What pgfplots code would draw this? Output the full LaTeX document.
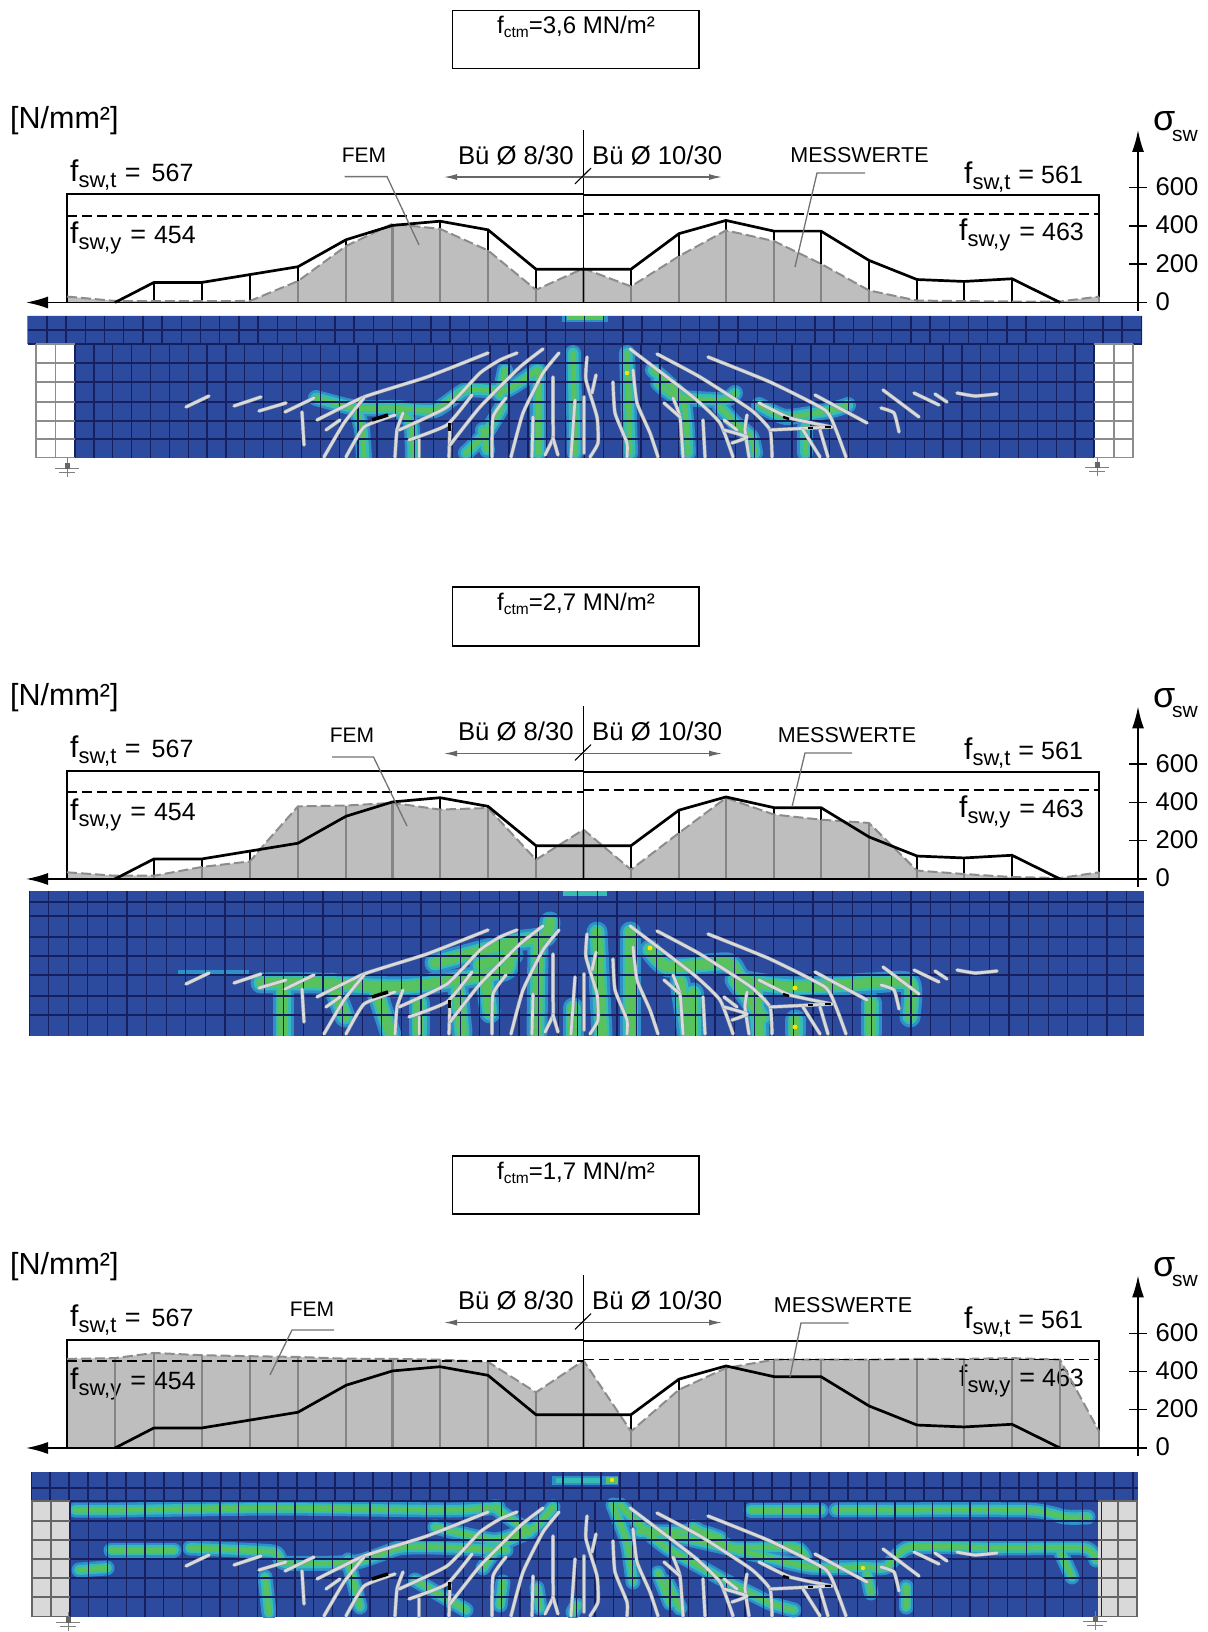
\documentclass[border=0pt]{standalone}
\usepackage{fontspec}
\setmainfont{Liberation Sans}
\usepackage{pgfplots}
\pgfplotsset{compat=1.18}
\usetikzlibrary{arrows.meta}
\definecolor{feblue}{HTML}{2C4A9E}
\definecolor{femesh}{HTML}{16205E}
\definecolor{bandO}{HTML}{2F8FC8}
\definecolor{bandM}{HTML}{35BDB5}
\definecolor{bandI}{HTML}{58C25F}
\definecolor{femgray}{HTML}{BEBEBE}
\definecolor{femline}{HTML}{8C8C8C}
\definecolor{combg}{HTML}{858585}
\definecolor{crackc}{HTML}{DADADA}
\definecolor{crackd}{HTML}{8E9AA8}
\definecolor{supgray}{HTML}{D9D9D9}
\newcommand{\fs}[1]{\fontsize{#1}{#1}\selectfont}
\newcommand{\lab}[4]{{\fs{30}f}\raisebox{-6pt}{\fs{22}#1}\hspace{#3pt}{\fs{27}=}\hspace{#4pt}{\fs{25}#2}}
\tikzset{mesh/.style={draw=femesh,line width=1.3pt},cell/.style={draw=#1,line width=1.2pt}}
\newcommand{\chart}[9]{%
\begin{axis}[at={(26pt,{(1632-#1)*1pt})},anchor=south west,scale only axis,width=1112pt,height=172.5pt,
 xmin=26,xmax=1138,ymin=0,ymax=902,clip=false,axis x line=bottom,axis y line=right,
 x axis line style={{Latex[length=22pt,width=12pt]}-,line width=1.6pt},
 y axis line style={-{Latex[length=22pt,width=12pt]},line width=1.6pt},
 tick align=center,major tick length=18pt,xtick=\empty,ytick={0,200,400,600},
 tick style={black,line width=1.5pt},
 /pgf/number format/assume math mode=true,
 yticklabel style={font=\fs{25.6},black,xshift=5pt,yshift=1pt},]
\addplot[fill=femgray,draw=none,forget plot] coordinates {#2} \closedcycle;
\node[anchor=west,inner sep=0pt] at (axis cs:70,668) {\lab{sw,t}{567}{8.5}{11}};
\node[anchor=west,inner sep=0pt] at (axis cs:70,337) {\lab{sw,y}{454}{9}{8}};
\node[anchor=west,inner sep=0pt] at (axis cs:964,656) {\lab{sw,t}{561}{8}{7}};
\node[anchor=west,inner sep=0pt] at (axis cs:959,353) {\lab{sw,y}{463}{9}{7}};
\addplot[black,line width=1.9pt,forget plot] coordinates {(67,0)(67,567)(583.5,567)(583.5,561)(1099,561)(1099,0)};
\addplot[ycomb,black,line width=2pt,forget plot] coordinates {(154,105)(202,105)(250,146)(298,187)(346,328)(392.5,403)(440,425)(488,380)(536,174)(583.5,174)(631,174)(679,360)(726,429)(774,373)(821,373)(869,220)(917,120)(964,110)(1012,124)};
\addplot[ycomb,combg,line width=2.6pt,forget plot] coordinates {#3};
\addplot[femline,line width=2pt,dash pattern=on 10pt off 4pt,forget plot] coordinates {#2};
\addplot[black,line width=1.1pt,forget plot] coordinates {(583.5,0)(583.5,902)};
\addplot[black,line width=1.9pt,dash pattern=on 10pt off 5pt,forget plot] coordinates {(67,454)(583.5,454)};
\addplot[black,line width=1.9pt,dash pattern=on 10pt off 5pt,forget plot] coordinates {(583.5,463)(1099,463)};
\addplot[black,line width=2.7pt,line join=round,forget plot] coordinates {(115,0)(154,105)(202,105)(250,146)(298,187)(346,328)(392.5,403)(440,425)(488,380)(536,174)(583.5,174)(631,174)(679,360)(726,429)(774,373)(821,373)(869,220)(917,120)(964,110)(1012,124)(1060,0)};
\addplot[black,line width=1.9pt,forget plot] coordinates {(48,0)(1138,0)};
\addplot[black,line width=1.6pt,forget plot] coordinates {(1138,0)(1138,-42)};
\addplot[color=black!55,line width=1.3pt,forget plot] coordinates {#6};
\addplot[color=black!55,line width=1.3pt,forget plot] coordinates {#9};
\addplot[color=black!60,line width=1.1pt,{Latex[length=13pt,width=6pt]}-{Latex[length=13pt,width=6pt]},forget plot] coordinates {(444,656)(722,656)};
\addplot[black,line width=1.1pt,forget plot] coordinates {(575,620)(591,703)};
\node[anchor=west,inner sep=0pt] at (axis cs:10,951) {\fs{30.5}[N/mm²]};
\node[anchor=west,inner sep=0pt] at (axis cs:457.8,771) {\fs{25.7}Bü Ø 8/30};
\node[anchor=west,inner sep=0pt] at (axis cs:592,771) {\fs{25.7}Bü Ø 10/30};
\node[inner sep=0pt] at (axis cs:#4,#5) {\fs{21}FEM};
\node[inner sep=0pt] at (axis cs:#7,#8) {\fs{21.5}MESSWERTE};
\node[anchor=west,inner sep=0pt] at (axis cs:1153,948) {\fs{36}σ};
\node[anchor=west,inner sep=0pt] at (axis cs:1172,872) {\fs{21}sw};
\end{axis}}
\newcommand{\bandpasses}[4]{%
\def\bnd##1{\addplot[line width=#1pt,color=bandO,line join=round,line cap=round,smooth,tension=.35,forget plot] coordinates {##1};}#4%
\def\bnd##1{\addplot[line width=#2pt,color=bandM,line join=round,line cap=round,smooth,tension=.35,forget plot] coordinates {##1};}#4%
\def\bnd##1{\addplot[line width=#3pt,color=bandI,line join=round,line cap=round,smooth,tension=.35,forget plot] coordinates {##1};}#4}
\newcommand{\crk}[1]{\addplot[crackd,line width=3.7pt,line join=round,line cap=round,smooth,tension=.3,forget plot] coordinates {#1};\addplot[crackc,line width=2.7pt,line join=round,line cap=round,smooth,tension=.3,forget plot] coordinates {#1};}
\newcommand{\cracks}{%
\crk{(186,407)(209,396)}\crk{(234,406)(261,397)}\crk{(259,411)(286,403)}\crk{(285,412)(314,398)}
\crk{(302,412)(304,445)}\crk{(317,420)(364,397)(427,377)(488,353)}\crk{(326,430)(340,420)}
\crk{(324,457)(344,423)(364,398)}\crk{(346,457)(364,427)(395,415)}\crk{(395,457)(397,430)(403,413)}
\crk{(399,430)(447,407)(480,373)(500,360)(517,353)}\crk{(409,440)(447,425)(472,395)}\crk{(419,457)(419,440)}
\crk{(449,457)(450,425)}\crk{(450,445)(480,407)(520,367)(543,349)}\crk{(492,457)(493,417)(506,398)}
\crk{(511,457)(523,413)(543,373)(559,353)}\crk{(532,457)(533,417)}\crk{(553,377)(553,420)(553,438)(545,455)}
\crk{(553,438)(558,455)}\crk{(571,457)(575,400)}\crk{(587,357)(586,380)(597,417)(598,443)(590,457)}
\crk{(596,375)(592,393)}\crk{(584,397)(584,453)}\crk{(613,382)(615,413)(627,443)(627,457)}
\crk{(633,370)(637,403)(650,433)(658,457)}\crk{(630,349)(693,397)(720,423)(733,457)}
\crk{(657,354)(700,377)(751,410)(770,430)(772,457)}\crk{(708,357)(770,382)(825,410)(836,430)(846,457)}
\crk{(815,395)(867,423)}\crk{(759,403)(790,418)(832,427)}\crk{(770,430)(832,427)}
\crk{(803,430)(820,457)}\crk{(820,430)(828,457)}\crk{(703,420)(705,457)}\crk{(747,415)(745,430)(749,457)}
\crk{(724,430)(747,437)(732,443)}\crk{(724,420)(737,430)}\crk{(673,398)(680,417)(683,457)}\crk{(664,403)(680,417)}
\crk{(883,390)(919,417)}\crk{(881,408)(894,413)(899,432)}\crk{(914,393)(939,405)}\crk{(935,394)(947,402)}\crk{(957,393)(975,396)(997,394)}
\addplot[black,line width=3.5pt,forget plot] coordinates {(372,420)(388,415)};
\addplot[black,line width=3pt,forget plot] coordinates {(449,423)(449,431)};
\addplot[black,line width=2.5pt,forget plot] coordinates {(783,417)(789,419)};
\addplot[black,line width=2.5pt,forget plot] coordinates {(825,427)(831,427)};
\addplot[black,line width=2.5pt,forget plot] coordinates {(808,428)(813,428)};}
\newcommand{\supp}[2]{\draw[black!50,line width=1pt] ({(#1-12)*1pt},{(1632-#2)*1pt})--({(#1+12)*1pt},{(1632-#2)*1pt}) ({#1*1pt},{(1632-#2+11)*1pt})--({#1*1pt},{(1632-#2-8)*1pt}) ({(#1-8)*1pt},{(1632-#2-4)*1pt})--({(#1+8)*1pt},{(1632-#2-4)*1pt});
\fill[black!60] ({(#1-2)*1pt},{(1632-#2)*1pt}) rectangle ({(#1+3)*1pt},{(1632-#2+6)*1pt});}
\newcommand{\titlebox}[3]{\draw[black,line width=1.5pt] (452.6pt,{(1632-#1)*1pt}) rectangle (699pt,{(1632-#2)*1pt});
\node[inner sep=0pt] at (576pt,{(1632-#1-17)*1pt}) {\fs{24}f\raisebox{-4pt}{\fs{15.5}ctm}=#3 MN/m²};}
\begin{document}
\begin{tikzpicture}[x=1pt,y=1pt]
\useasboundingbox (0,0) rectangle (1207pt,1632pt);
\titlebox{10.4}{68.7}{3,6}
\titlebox{587}{646}{2,7}
\titlebox{1156}{1214}{1,7}
% ---------- FE panel 1
\begin{axis}[at={(27.7pt,{(1632-458)*1pt})},anchor=south west,scale only axis,width=1114.3pt,height=142pt,
 xmin=27.7,xmax=1142,ymin=316,ymax=458,y dir=reverse,hide axis,clip=true]
\addplot[fill=feblue,draw=none,forget plot] coordinates {(27.7,316)(1142,316)(1142,344)(1094,344)(1094,458)(75,458)(75,344)(27.7,344)} -- cycle;
\def\bandsA{%
\bnd{(316,398)(356,408)(395,408)(435,410)(466,390)(506,390)(537,370)}
\bnd{(364,458)(362,430)(356,408)}\bnd{(413,458)(411,423)(395,408)}
\bnd{(466,453)(486,433)(502,407)}\bnd{(483,430)(487,450)}
\bnd{(538,370)(538,453)}\bnd{(573,353)(575,453)}\bnd{(627,353)(630,453)}
\bnd{(653,370)(683,400)(688,453)}
\bnd{(658,383)(677,397)(724,400)(735,393)}\bnd{(720,407)(735,423)(751,437)(755,453)}
\bnd{(759,405)(786,417)(832,410)(848,405)}\bnd{(805,427)(805,453)}\bnd{(500,395)(505,370)}}
\bandpasses{16}{11}{5}{\bandsA}
\addplot[line width=6pt,color=bandO,forget plot] coordinates {(562,319)(608,319)};
\addplot[line width=3.5pt,color=bandI,forget plot] coordinates {(567,318)(603,318)};
\addplot[only marks,mark=*,mark size=2pt,color=yellow!85!orange,forget plot] coordinates {(627,373)};
\pgfplotsinvokeforeach{27.7,46.9,...,1142}{\draw[mesh] (axis cs:#1,316)--(axis cs:#1,344);}
\pgfplotsinvokeforeach{75,93.87,...,1095}{\draw[mesh] (axis cs:#1,344)--(axis cs:#1,458);}
\pgfplotsinvokeforeach{330,344}{\draw[mesh] (axis cs:27.7,#1)--(axis cs:1142,#1);}
\pgfplotsinvokeforeach{363,382,402,421,439}{\draw[mesh] (axis cs:75,#1)--(axis cs:1094,#1);}
\pgfplotsinvokeforeach{344,363,382,402,421,439,457.5}{\draw[cell=black!45] (axis cs:36,#1)--(axis cs:75,#1);\draw[cell=black!45] (axis cs:1094,#1)--(axis cs:1133,#1);}
\pgfplotsinvokeforeach{36,55.5,1114,1133}{\draw[cell=black!45] (axis cs:#1,344)--(axis cs:#1,458);}
\cracks
\end{axis}
% ---------- FE panel 2
\begin{axis}[at={(29pt,{(1632-459-577)*1pt})},anchor=south west,scale only axis,width=1115pt,height=145.3pt,
 xmin=29,xmax=1144,ymin=313.7,ymax=459,y dir=reverse,hide axis,clip=true]
\addplot[fill=feblue,draw=none,forget plot] coordinates {(29,313.7)(1144,313.7)(1144,459)(29,459)} -- cycle;
\def\bandsB{%
\bnd{(261,406)(316,406)(395,410)(435,406)(506,393)(510,366)(545,360)(550,345)}
\bnd{(435,386)(510,366)}\bnd{(283,410)(283,458)}\bnd{(332,406)(345,440)}\bnd{(375,410)(391,458)}
\bnd{(419,426)(419,456)}\bnd{(458,413)(462,456)}\bnd{(486,403)(490,436)}\bnd{(538,368)(537,456)}
\bnd{(573,431)(573,458)}\bnd{(597,355)(602,458)}\bnd{(630,355)(630,458)}
\bnd{(650,373)(668,390)(728,386)(743,403)(794,410)(871,406)(910,406)(910,440)}
\bnd{(693,416)(693,456)}\bnd{(680,405)(688,458)}\bnd{(735,403)(762,440)}
\bnd{(755,410)(759,456)}\bnd{(795,443)(795,456)}\bnd{(871,426)(871,456)}\bnd{(480,388)(513,378)}}
\bandpasses{21}{15}{10}{\bandsB}
\addplot[line width=5pt,color=bandM,forget plot] coordinates {(563,317)(607,317)};
\addplot[line width=6pt,color=bandO,forget plot] coordinates {(178,396)(249,396)};
\addplot[only marks,mark=*,mark size=2.2pt,color=yellow!85!orange,forget plot] coordinates {(650,371)(795,411)(795,450)};
\pgfplotsinvokeforeach{29,48.6,...,1144}{\draw[mesh] (axis cs:#1,313.7)--(axis cs:#1,459);}
\pgfplotsinvokeforeach{325,339,360,379,398,419,438}{\draw[mesh] (axis cs:29,#1)--(axis cs:1144,#1);}
\cracks
\end{axis}
% ---------- FE panel 3
\begin{axis}[at={(31pt,{(1632-458-1159)*1pt})},anchor=south west,scale only axis,width=1107pt,height=145pt,
 xmin=31,xmax=1138,ymin=313,ymax=458,y dir=reverse,hide axis,clip=true]
\addplot[fill=feblue,draw=none,forget plot] coordinates {(31,313)(1138,313)(1138,458)(31,458)} -- cycle;
\def\bandsC{%
\bnd{(75,351)(119,351)(277,349)(451,351)(498,348)}
\bnd{(111,391)(174,391)}\bnd{(190,389)(273,393)(285,404)(356,403)(399,389)(435,388)(506,391)}
\bnd{(79,411)(107,409)}\bnd{(265,418)(269,454)}\bnd{(348,401)(360,448)}
\bnd{(435,368)(494,381)(526,371)}\bnd{(494,348)(530,371)(553,348)}\bnd{(415,421)(466,451)}
\bnd{(530,373)(500,386)(483,409)}\bnd{(503,423)(500,446)}\bnd{(537,429)(540,449)}\bnd{(577,446)(573,453)}
\bnd{(613,346)(627,383)(633,423)}\bnd{(620,346)(647,373)(667,389)(697,406)(720,419)}
\bnd{(667,423)(680,449)}\bnd{(640,373)(700,373)(720,379)}
\bnd{(751,351)(821,351)}\bnd{(836,351)(1026,351)(1065,358)(1088,358)}
\bnd{(646,371)(724,388)(809,408)(863,408)(886,408)(910,388)(999,389)(1084,389)(1096,401)}
\bnd{(693,368)(732,388)(794,388)(805,398)}\bnd{(1061,394)(1072,418)}\bnd{(867,414)(871,434)}\bnd{(906,428)(906,448)}
\bnd{(658,414)(670,444)}\bnd{(724,421)(770,444)(794,451)}}
\bandpasses{15}{10}{5}{\bandsC}
\addplot[line width=9pt,color=bandO,forget plot] coordinates {(552,321)(618,321)};
\addplot[line width=5pt,color=bandM,forget plot] coordinates {(556,321)(600,321)};
\addplot[line width=7pt,color=bandI,forget plot] coordinates {(606,321)(618,321)};
\addplot[only marks,mark=*,mark size=2pt,color=yellow!85!orange,forget plot] coordinates {(612,321)(863,409)};
\addplot[fill=supgray,draw=none,forget plot] coordinates {(31,342)(70,342)(70,458)(31,458)} -- cycle;
\addplot[fill=supgray,draw=none,forget plot] coordinates {(1098,342)(1138,342)(1138,458)(1098,458)} -- cycle;
\pgfplotsinvokeforeach{31,50,...,1138}{\draw[mesh] (axis cs:#1,313)--(axis cs:#1,342);}
\pgfplotsinvokeforeach{70,88.75,...,1099}{\draw[mesh] (axis cs:#1,342)--(axis cs:#1,458);}
\pgfplotsinvokeforeach{329,342}{\draw[mesh] (axis cs:31,#1)--(axis cs:1138,#1);}
\pgfplotsinvokeforeach{362,381,400,419,438}{\draw[mesh] (axis cs:70,#1)--(axis cs:1098,#1);}
\pgfplotsinvokeforeach{342,362,381,400,419,438,457.5}{\draw[cell=black!60] (axis cs:31,#1)--(axis cs:70,#1);\draw[cell=black!60] (axis cs:1098,#1)--(axis cs:1138,#1);}
\pgfplotsinvokeforeach{32,51,1118,1137}{\draw[cell=black!60] (axis cs:#1,342)--(axis cs:#1,458);}
\cracks
\end{axis}
\supp{67}{469}\supp{1097}{468}\supp{68}{1623}\supp{1095}{1622}
% ---------- charts
\chart{302.5}
 {(67,31)(115,8)(154,7)(202,7)(250,8)(298,112)(346,295)(392.5,411)(440,385)(488,272)(536,66)(583.5,178)(631,84)(679,242)(726,377)(774,321)(821,202)(869,63)(917,10)(964,7)(1012,5)(1060,5)(1099,31)}
 {(115,8)(154,7)(202,7)(250,8)(298,112)(346,295)(392.5,411)(440,385)(488,272)(536,66)(583.5,178)(631,84)(679,242)(726,377)(774,321)(821,202)(869,63)(917,10)(964,7)(1012,5)(1060,5)(1099,31)}
 {364}{771}{(344.7,658)(387,658)(419,301)}{859.5}{771}{(865,677)(817,677)(795,186)}
\chart{879}
 {(67,35)(115,17)(154,17)(202,63)(250,92)(265,185)(298,380)(346,384)(392.5,398)(440,363)(488,371)(536,101)(583.5,258)(631,49)(679,241)(726,424)(774,337)(821,310)(869,293)(917,44)(964,26)(1012,10)(1060,5)(1099,35)}
 {(115,17)(154,17)(202,63)(250,92)(298,380)(346,384)(392.5,398)(440,363)(488,371)(536,101)(583.5,258)(631,49)(679,241)(726,424)(774,337)(821,310)(869,293)(917,44)(964,26)(1012,10)(1060,5)(1099,35)}
 {352}{750}{(332,638)(373.5,638)(407,277)}{847}{750}{(852,659)(805,659)(792,377)}
\chart{1448}
 {(67,466)(115,470)(154,497)(202,485)(250,480)(298,476)(346,467)(392.5,466)(440,462)(488,450)(536,291)(583.5,457)(631,87)(679,305)(726,418)(774,462)(821,462)(869,462)(917,466)(964,466)(1012,470)(1060,462)(1099,87)}
 {(115,470)(154,497)(202,485)(250,480)(298,476)(346,467)(392.5,466)(440,462)(488,450)(536,291)(583.5,457)(631,87)(679,305)(726,418)(774,462)(821,462)(869,462)(917,466)(964,466)(1012,470)(1060,462)(1099,87)}
 {312}{727}{(334,617)(292,617)(270,382)}{843}{748}{(848.5,654)(801,654)(790,371)}
\end{tikzpicture}
\end{document}
